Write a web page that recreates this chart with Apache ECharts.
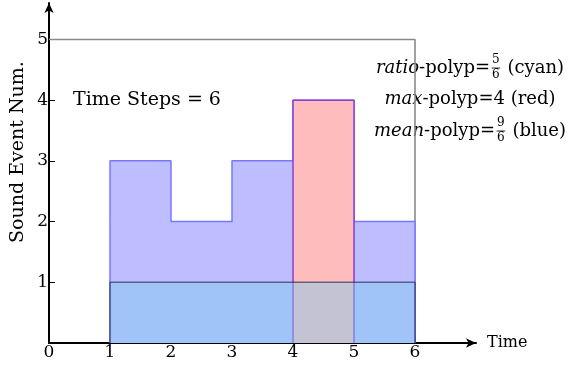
<!DOCTYPE html>
<html>
<head>
<meta charset="utf-8">
<script src="https://cdn.jsdelivr.net/npm/echarts@6/dist/echarts.min.js"></script>
<style>
  html, body { margin: 0; padding: 0; background: #fff; }
  #chart { width: 573px; height: 366px; }
</style>
</head>
<body>
<div id="chart"></div>
<script>
// time step intervals [start, start+1]
const stepStarts = [1, 2, 3, 4, 5];
const meanCounts = [3, 2, 3, 4, 2];   // blue
const maxCounts = [0, 0, 0, 4, 0];    // red (only the peak step)
const ratioCounts = [1, 1, 1, 1, 1];  // cyan
const frameTop = 5;
const frameRight = 6;
const xTicks = [0, 1, 2, 3, 4, 5, 6];
const yTicks = [1, 2, 3, 4, 5];

// legend-like notes: [italic word, value (number or [num, den]), colour name]
const notes = [
  ["ratio", [5, 6], "cyan"],
  ["max", 4, "red"],
  ["mean", [9, 6], "blue"]
];

const FONT = "DejaVu Serif";

// turn per-step counts into a closed step outline
function stepPoints(starts, counts) {
  let pts = [];
  let first = -1, last = -1;
  for (let i = 0; i < starts.length; i++) {
    if (counts[i] > 0) {
      if (first < 0) first = i;
      last = i;
    }
  }
  pts.push([starts[first], 0]);
  for (let i = first; i <= last; i++) {
    pts.push([starts[i], counts[i]]);
    pts.push([starts[i] + 1, counts[i]]);
  }
  pts.push([starts[last] + 1, 0]);
  return pts;
}

function areaSeries(name, pts, fill, line, z) {
  return {
    name: name,
    type: "line",
    data: pts,
    z: z,
    symbol: "none",
    silent: true,
    lineStyle: { color: line, width: 1.5 },
    areaStyle: { color: fill, opacity: 1, origin: 0 }
  };
}

// text notes on the right, centred, with stacked fractions
const ctx = document.createElement("canvas").getContext("2d");
function textW(str, font) {
  ctx.font = font;
  return ctx.measureText(str).width;
}
function noteGraphics(cx, y0, gap) {
  const big = "18px " + FONT;
  const ital = "italic 18px " + FONT;
  const small = "12px " + FONT;
  let els = [];
  notes.forEach(function(n, k) {
    const y = y0 + k * gap;
    const parts = [];
    parts.push({ t: n[0], f: ital });
    parts.push({ t: "-polyp=", f: big });
    if (Array.isArray(n[1])) {
      parts.push({ frac: n[1] });
    } else {
      parts.push({ t: String(n[1]), f: big });
    }
    parts.push({ t: " (" + n[2] + ")", f: big });
    let total = 0;
    parts.forEach(function(p) {
      p.w = p.frac ? Math.max(textW(String(p.frac[0]), small), textW(String(p.frac[1]), small)) + 4 : textW(p.t, p.f);
      total += p.w;
    });
    let x = cx - total / 2;
    parts.forEach(function(p) {
      if (p.frac) {
        const mid = x + p.w / 2;
        els.push({ type: "text", x: mid, y: y - 2, style: { text: String(p.frac[0]), font: small, fill: "#000", align: "center", verticalAlign: "bottom" } });
        els.push({ type: "line", shape: { x1: x + 1.5, y1: y, x2: x + p.w - 1.5, y2: y }, style: { stroke: "#000", lineWidth: 0.8 } });
        els.push({ type: "text", x: mid, y: y + 1, style: { text: String(p.frac[1]), font: small, fill: "#000", align: "center", verticalAlign: "top" } });
      } else {
        els.push({ type: "text", x: x, y: y, style: { text: p.t, font: p.f, fill: "#000", align: "left", verticalAlign: "middle" } });
      }
      x += p.w;
    });
  });
  return els;
}

let myChart = echarts.init(document.getElementById("chart"));

const option = {
  animation: false,
  grid: { left: 49, right: 97, top: 3, bottom: 23, outerBoundsMode: "none" },
  xAxis: {
    type: "value",
    min: 0,
    max: 7,
    interval: 1,
    name: "Time",
    nameLocation: "end",
    nameGap: 11,
    nameTextStyle: { fontFamily: FONT, fontSize: 16, color: "#000", verticalAlign: "middle" },
    axisLine: {
      lineStyle: { color: "#000", width: 2 },
      symbol: ["none", "arrow"],
      symbolSize: [7, 10]
    },
    axisTick: { inside: true, length: 5, customValues: xTicks, lineStyle: { color: "#000" } },
    axisLabel: { customValues: xTicks, fontFamily: FONT, fontSize: 17, color: "#000", margin: 1 },
    splitLine: { show: false }
  },
  yAxis: {
    type: "value",
    min: 0,
    max: 5.6,
    axisLine: {
      show: true,
      lineStyle: { color: "#000", width: 2 },
      symbol: ["none", "arrow"],
      symbolSize: [7, 10]
    },
    axisTick: { show: true, inside: true, length: 6, customValues: yTicks, lineStyle: { color: "#000" } },
    axisLabel: { customValues: yTicks, fontFamily: FONT, fontSize: 17, color: "#000", margin: 1 },
    splitLine: { show: false }
  },
  series: [
    {
      name: "frame",
      type: "line",
      data: [[0, frameTop], [frameRight, frameTop], [frameRight, 0]],
      symbol: "none",
      silent: true,
      z: 1,
      lineStyle: { color: "#8a8a8a", width: 1.6 }
    },
    areaSeries("mean", stepPoints(stepStarts, meanCounts), "#bdbdff", "#7878ff", 2),
    areaSeries("max", stepPoints(stepStarts, maxCounts), "#ffbcbc", "#8a3ed6", 3),
    areaSeries("ratio", stepPoints(stepStarts, ratioCounts), "rgba(125,205,240,0.45)", "rgba(30,30,70,0.6)", 4)
  ],
  graphic: [
    {
      type: "text",
      x: 18,
      y: 152,
      rotation: Math.PI / 2,
      style: { text: "Sound Event Num.", font: "19px " + FONT, fill: "#000", align: "center", verticalAlign: "middle" }
    },
    {
      type: "text",
      x: 73,
      y: 100,
      style: { text: "Time Steps = 6", font: "19px " + FONT, fill: "#000", verticalAlign: "middle" }
    }
  ].concat(noteGraphics(470, 68, 31.5))
};

myChart.setOption(option);
</script>
</body>
</html>
